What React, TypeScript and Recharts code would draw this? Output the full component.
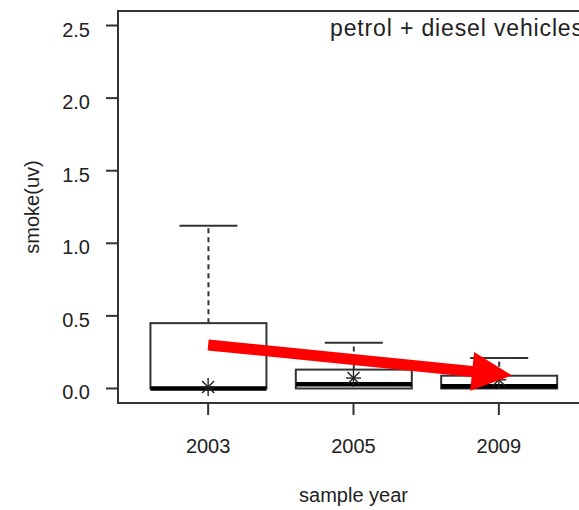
import React from "react";
import {
  ComposedChart,
  Bar,
  Scatter,
  XAxis,
  YAxis,
  ReferenceArea,
  Label,
} from "recharts";

// smoke(uv) per sample year, as five-number summaries plus the mean
const years = ["2003", "2005", "2009"];
const positions = [1, 2, 3];
const lowerWhisker = [0, 0, 0];
const lowerQuartile = [0, 0, 0];
const medians = [0, 0.03, 0.015];
const upperQuartile = [0.45, 0.13, 0.088];
const upperWhisker = [1.12, 0.315, 0.21];
const means = [0.01, 0.072, 0.06];

const yTicks = [0, 0.5, 1, 1.5, 2, 2.5];
const xDomain = [0.38, 3.62];

// trend arrow, in axis units (pos = box position, y = smoke)
const arrowPoints = [
  { pos: 1.0, y: 0.3 },
  { pos: 3.09, y: 0.09 },
];

const INK = "#333333";
const FONT = "'Liberation Sans', Arial, sans-serif";

const rows = positions.map((pos, i) => ({
  pos,
  year: years[i],
  lower: lowerWhisker[i],
  q1: lowerQuartile[i],
  median: medians[i],
  q3: upperQuartile[i],
  upper: upperWhisker[i],
  mean: means[i],
  range: [lowerWhisker[i], upperWhisker[i]],
}));

// The bar spans lower..upper whisker, so its pixel box gives the y scale
function BoxShape(props: any) {
  const { x, y, width, height, payload } = props;
  const { lower, q1, median, q3, upper } = payload;
  const k = height / (upper - lower || 1);
  const yOf = (v: number) => y + (upper - v) * k;
  const cx = x + width / 2;
  const cap = width / 4;
  return (
    <g>
      <line x1={cx} x2={cx} y1={yOf(q3)} y2={yOf(upper)} stroke={INK} strokeWidth={2} strokeDasharray="5 4" />
      <line x1={cx - cap} x2={cx + cap} y1={yOf(upper)} y2={yOf(upper)} stroke={INK} strokeWidth={2} />
      {lower < q1 && (
        <>
          <line x1={cx} x2={cx} y1={yOf(q1)} y2={yOf(lower)} stroke={INK} strokeWidth={2} strokeDasharray="5 4" />
          <line x1={cx - cap} x2={cx + cap} y1={yOf(lower)} y2={yOf(lower)} stroke={INK} strokeWidth={2} />
        </>
      )}
      <rect x={x} y={yOf(q3)} width={width} height={yOf(q1) - yOf(q3)} fill="#fff" stroke={INK} strokeWidth={2} />
      <line x1={x} x2={x + width} y1={yOf(median)} y2={yOf(median)} stroke="#000" strokeWidth={4.5} />
    </g>
  );
}

// pch 8 style asterisk for the mean
function Asterisk(props: any) {
  const { cx, cy } = props;
  if (cx == null || cy == null) return null;
  return (
    <g stroke="#222" strokeWidth={1.4}>
      <line x1={cx} x2={cx} y1={cy - 9} y2={cy + 9} />
      <line x1={cx - 7.5} x2={cx + 7.5} y1={cy} y2={cy} />
      <line x1={cx - 6} x2={cx + 6} y1={cy - 6} y2={cy + 6} />
      <line x1={cx - 6} x2={cx + 6} y1={cy + 6} y2={cy - 6} />
    </g>
  );
}

// filled block arrow joining the two scatter points
function ArrowLine(props: any) {
  const pts = props.points;
  if (!pts || pts.length < 2) return null;
  const { x: x1, y: y1 } = pts[0];
  const { x: x2, y: y2 } = pts[1];
  const dx = x2 - x1;
  const dy = y2 - y1;
  const len = Math.hypot(dx, dy);
  const ux = dx / len;
  const uy = dy / len;
  const nx = -uy;
  const ny = ux;
  const shaft = 11 / 2;
  const head = 39 / 2;
  const headLen = 40;
  const bx = x2 - ux * headLen;
  const by = y2 - uy * headLen;
  const poly = [
    [x1 + nx * shaft, y1 + ny * shaft],
    [bx + nx * shaft, by + ny * shaft],
    [bx + nx * head, by + ny * head],
    [x2, y2],
    [bx - nx * head, by - ny * head],
    [bx - nx * shaft, by - ny * shaft],
    [x1 - nx * shaft, y1 - ny * shaft],
  ]
    .map((p) => p.join(","))
    .join(" ");
  return <polygon points={poly} fill="#ff0000" />;
}

function YTick(props: any) {
  const { x, y, payload } = props;
  return (
    <text x={x} y={y + 11} textAnchor="end" fontSize={20} fontFamily={FONT} fill="#222">
      {payload.value.toFixed(1)}
    </text>
  );
}

function XTick(props: any) {
  const { x, y, payload } = props;
  return (
    <text x={x} y={y + 38} textAnchor="middle" fontSize={20} fontFamily={FONT} fill="#222">
      {years[positions.indexOf(payload.value)]}
    </text>
  );
}

export default function App() {
  return (
    <div
      style={{
        position: "absolute",
        left: 0,
        top: 0,
        width: 579,
        height: 510,
        overflow: "hidden",
        background: "#fff",
      }}
    >
      <ComposedChart
        width={600}
        height={510}
        data={rows}
        margin={{ top: 11, right: 11, bottom: 0, left: 0 }}
      >
        <XAxis
          type="number"
          dataKey="pos"
          domain={xDomain}
          ticks={positions}
          allowDataOverflow
          height={107}
          axisLine={false}
          tickSize={12}
          tickMargin={0}
          tickLine={{ stroke: INK, strokeWidth: 2 }}
          tick={<XTick />}
        >
          <Label
            content={(p: any) => {
              const vb = p.viewBox;
              return (
                <text x={vb.x + vb.width / 2} y={vb.y + 99} textAnchor="middle" fontSize={20} fontFamily={FONT} fill="#222">
                  sample year
                </text>
              );
            }}
          />
        </XAxis>
        {/* same scale, kept separate so the arrow does not narrow the boxes */}
        <XAxis xAxisId="arrow" type="number" dataKey="pos" domain={xDomain} allowDataOverflow hide />
        <YAxis
          type="number"
          domain={[-0.1, 2.6]}
          ticks={yTicks}
          allowDataOverflow
          width={118}
          axisLine={false}
          tickSize={12}
          tickMargin={16}
          tickLine={{ stroke: INK, strokeWidth: 2 }}
          tick={<YTick />}
        >
          <Label
            content={(p: any) => {
              const vb = p.viewBox;
              const cy = vb.y + vb.height / 2;
              return (
                <text x={39} y={cy} transform={`rotate(-90, 39, ${cy})`} textAnchor="middle" fontSize={20} fontFamily={FONT} fill="#222">
                  smoke(uv)
                </text>
              );
            }}
          />
        </YAxis>
        <ReferenceArea x1={0.38} x2={3.62} y1={-0.1} y2={2.6} fill="none" stroke={INK} strokeWidth={2} fillOpacity={0}>
          <Label
            content={(p: any) => {
              const vb = p.viewBox;
              return (
                <text x={vb.x + 212} y={vb.y + 25} fontSize={23} fontFamily={FONT} fill="#222" textLength={253} lengthAdjust="spacing">
                  petrol + diesel vehicles
                </text>
              );
            }}
          />
        </ReferenceArea>
        <Bar dataKey="range" barSize={116} shape={<BoxShape />} isAnimationActive={false} />
        <Scatter dataKey="mean" shape={<Asterisk />} isAnimationActive={false} />
        <Scatter
          xAxisId="arrow"
          data={arrowPoints}
          dataKey="y"
          shape={() => <g />}
          line={(p: any) => <ArrowLine {...p} />}
          isAnimationActive={false}
        />
      </ComposedChart>
    </div>
  );
}
